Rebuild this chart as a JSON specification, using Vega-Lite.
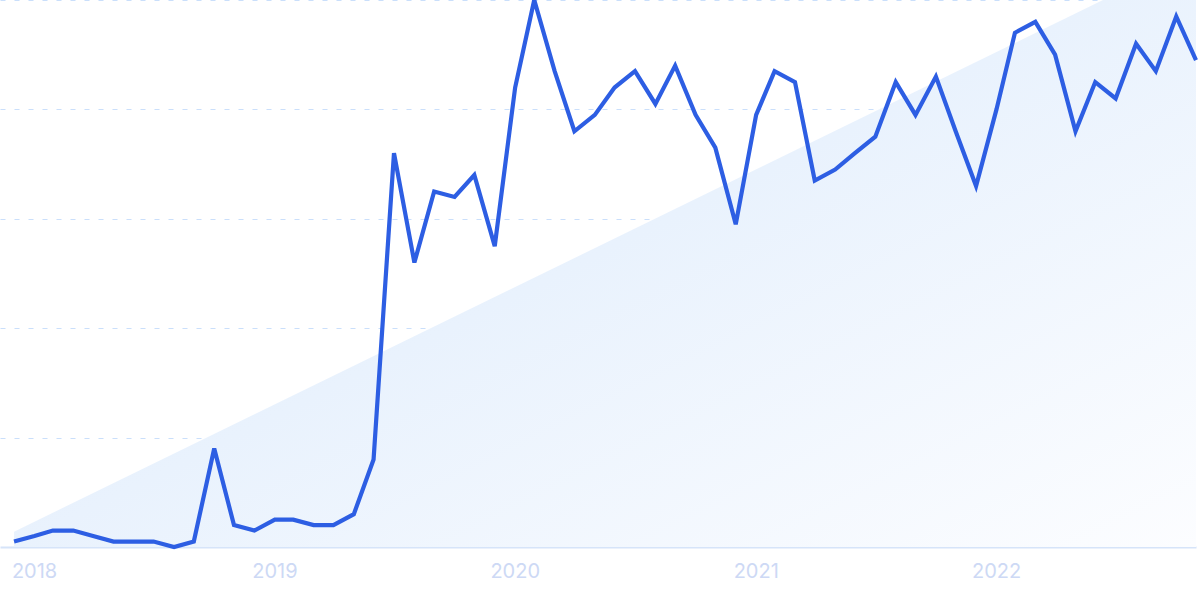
{
  "$schema": "https://vega.github.io/schema/vega-lite/v6.json",
  "autosize": {"type": "none"},
  "width": 1196,
  "height": 547,
  "padding": {"left": 0, "top": 0, "right": 4, "bottom": 53},
  "background": "#ffffff",
  "config": {"view": {"stroke": null}},
  "datasets": {
    "trend": [
      {"date": "2018-01-01", "trend": 2.8},
      {"date": "2022-12-01", "trend": 108.3}
    ],
    "series": [
      {"date": "2018-01-01", "value": 1},
      {"date": "2018-02-01", "value": 2},
      {"date": "2018-03-01", "value": 3},
      {"date": "2018-04-01", "value": 3},
      {"date": "2018-05-01", "value": 2},
      {"date": "2018-06-01", "value": 1},
      {"date": "2018-07-01", "value": 1},
      {"date": "2018-08-01", "value": 1},
      {"date": "2018-09-01", "value": 0},
      {"date": "2018-10-01", "value": 1},
      {"date": "2018-11-01", "value": 18},
      {"date": "2018-12-01", "value": 4},
      {"date": "2019-01-01", "value": 3},
      {"date": "2019-02-01", "value": 5},
      {"date": "2019-03-01", "value": 5},
      {"date": "2019-04-01", "value": 4},
      {"date": "2019-05-01", "value": 4},
      {"date": "2019-06-01", "value": 6},
      {"date": "2019-07-01", "value": 16},
      {"date": "2019-08-01", "value": 72},
      {"date": "2019-09-01", "value": 52},
      {"date": "2019-10-01", "value": 65},
      {"date": "2019-11-01", "value": 64},
      {"date": "2019-12-01", "value": 68},
      {"date": "2020-01-01", "value": 55},
      {"date": "2020-02-01", "value": 84},
      {"date": "2020-03-01", "value": 100},
      {"date": "2020-04-01", "value": 87},
      {"date": "2020-05-01", "value": 76},
      {"date": "2020-06-01", "value": 79},
      {"date": "2020-07-01", "value": 84},
      {"date": "2020-08-01", "value": 87},
      {"date": "2020-09-01", "value": 81},
      {"date": "2020-10-01", "value": 88},
      {"date": "2020-11-01", "value": 79},
      {"date": "2020-12-01", "value": 73},
      {"date": "2021-01-01", "value": 59},
      {"date": "2021-02-01", "value": 79},
      {"date": "2021-03-01", "value": 87},
      {"date": "2021-04-01", "value": 85},
      {"date": "2021-05-01", "value": 67},
      {"date": "2021-06-01", "value": 69},
      {"date": "2021-07-01", "value": 72},
      {"date": "2021-08-01", "value": 75},
      {"date": "2021-09-01", "value": 85},
      {"date": "2021-10-01", "value": 79},
      {"date": "2021-11-01", "value": 86},
      {"date": "2021-12-01", "value": 76},
      {"date": "2022-01-01", "value": 66},
      {"date": "2022-02-01", "value": 80},
      {"date": "2022-03-01", "value": 94},
      {"date": "2022-04-01", "value": 96},
      {"date": "2022-05-01", "value": 90},
      {"date": "2022-06-01", "value": 76},
      {"date": "2022-07-01", "value": 85},
      {"date": "2022-08-01", "value": 82},
      {"date": "2022-09-01", "value": 92},
      {"date": "2022-10-01", "value": 87},
      {"date": "2022-11-01", "value": 97},
      {"date": "2022-12-01", "value": 89}
    ]
  },
  "layer": [
    {
      "data": {"name": "trend"},
      "mark": {
        "type": "area",
        "clip": true,
        "color": {
          "gradient": "linear",
          "x1": 0, "y1": 0, "x2": 1, "y2": 1,
          "stops": [
            {"offset": 0, "color": "#d8e7fa"},
            {"offset": 0.5, "color": "#e9f2fd"},
            {"offset": 1, "color": "#fcfdff"}
          ]
        }
      },
      "encoding": {
        "x": {
          "field": "date",
          "type": "temporal",
          "scale": {
            "type": "utc",
            "domain": [
              {"year": 2017, "month": 12, "date": 10, "hours": 16, "utc": true},
              {"year": 2022, "month": 12, "date": 1, "utc": true}
            ]
          },
          "axis": {
            "title": null,
            "format": "%Y",
            "tickCount": {"interval": "year", "step": 1},
            "ticks": false,
            "grid": false,
            "domain": true,
            "domainColor": "#d6e4f9",
            "domainWidth": 2,
            "labelFont": "Inter",
            "labelFontSize": 20,
            "labelColor": "#cdd9f5",
            "labelPadding": 14,
            "labelAlign": "center",
            "labelOffset": 20,
            "labelFlush": false,
            "labelOverlap": false
          }
        },
        "y": {
          "field": "trend",
          "type": "quantitative",
          "scale": {"domain": [0, 100], "nice": false, "zero": true},
          "axis": {
            "title": null,
            "labels": false,
            "ticks": false,
            "domain": false,
            "values": [20, 40, 60, 80, 100],
            "grid": true,
            "gridColor": "#cadffb",
            "gridDash": [5, 9],
            "gridWidth": 1.2
          }
        }
      }
    },
    {
      "data": {"name": "series"},
      "mark": {
        "type": "line",
        "color": "#2d5ee3",
        "strokeWidth": 4.2,
        "strokeJoin": "miter"
      },
      "encoding": {
        "x": {"field": "date", "type": "temporal"},
        "y": {"field": "value", "type": "quantitative"}
      }
    }
  ]
}
